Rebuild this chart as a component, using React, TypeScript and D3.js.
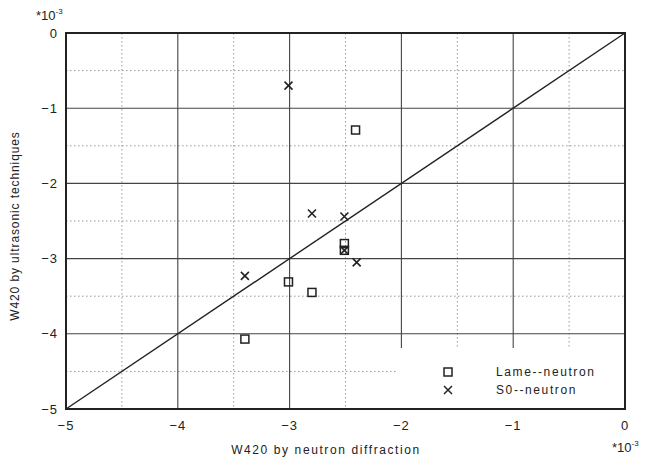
import React from "react";
import * as d3 from "d3";

const xTicks = [-5, -4, -3, -2, -1, 0];
const yTicks = [0, -1, -2, -3, -4, -5];
const minorTicks = [-4.5, -3.5, -2.5, -1.5, -0.5];

const lameX = [-2.41, -3.01, -2.8, -3.4, -2.51, -2.51];
const lameY = [-1.29, -3.31, -3.45, -4.07, -2.8, -2.89];

const s0X = [-3.01, -2.8, -2.51, -3.4, -2.4, -2.51];
const s0Y = [-0.7, -2.4, -2.44, -3.23, -3.05, -2.89];

const legendLabels = ["Lame--neutron", "S0--neutron"];

const W = 651;
const H = 465;
const M = { left: 66, right: 26, top: 33, bottom: 56 };

export default function App() {
  const x = d3.scaleLinear().domain([-5, 0]).range([M.left, W - M.right]);
  const y = d3.scaleLinear().domain([-5, 0]).range([H - M.bottom, M.top]);
  const font = "'Liberation Sans', Arial, sans-serif";
  const ink = "#222";
  const lame = lameX.map((v, i) => ({ x: v, y: lameY[i] }));
  const s0 = s0X.map((v, i) => ({ x: v, y: s0Y[i] }));
  const diag = d3.line<number>().x((d) => x(d)).y((d) => y(d));
  const legX = 398;
  const legY = 348;
  const sq = 4;
  const xs = 4;
  return (
    <svg
      width={W}
      height={H}
      style={{ position: "absolute", left: 0, top: 0, background: "#fff" }}
      fontFamily={font}
    >
      <rect width={W} height={H} fill="#fff" />
      {/* minor dotted grid */}
      {minorTicks.map((t) => (
        <g key={"m" + t}>
          <line x1={x(t)} x2={x(t)} y1={y(0)} y2={y(-5)} stroke="#999" strokeWidth={1} strokeDasharray="1.5,2.5" />
          <line x1={x(-5)} x2={x(0)} y1={y(t)} y2={y(t)} stroke="#999" strokeWidth={1} strokeDasharray="1.5,2.5" />
        </g>
      ))}
      {/* major grid */}
      {xTicks.slice(1, -1).map((t) => (
        <line key={"gx" + t} x1={x(t)} x2={x(t)} y1={y(0)} y2={y(-5)} stroke="#444" strokeWidth={1.1} />
      ))}
      {yTicks.slice(1, -1).map((t) => (
        <line key={"gy" + t} x1={x(-5)} x2={x(0)} y1={y(t)} y2={y(t)} stroke="#444" strokeWidth={1.1} />
      ))}
      {/* legend area blanks grid */}
      <rect x={legX} y={legY} width={x(0) - legX} height={y(-5) - legY} fill="#fff" />
      {/* diagonal */}
      <path d={diag([-5, 0]) || ""} stroke={ink} strokeWidth={1.4} fill="none" />
      {/* frame */}
      <rect x={x(-5)} y={y(0)} width={x(0) - x(-5)} height={y(-5) - y(0)} fill="none" stroke={ink} strokeWidth={2} />
      {/* data */}
      {lame.map((d, i) => (
        <rect key={"l" + i} x={x(d.x) - sq} y={y(d.y) - sq} width={sq * 2} height={sq * 2} fill="none" stroke={ink} strokeWidth={1.5} />
      ))}
      {s0.map((d, i) => (
        <path
          key={"s" + i}
          d={`M${x(d.x) - xs},${y(d.y) - xs}L${x(d.x) + xs},${y(d.y) + xs}M${x(d.x) - xs},${y(d.y) + xs}L${x(d.x) + xs},${y(d.y) - xs}`}
          stroke={ink}
          strokeWidth={1.6}
          fill="none"
        />
      ))}
      {/* legend */}
      <rect x={448 - sq} y={372 - sq} width={sq * 2} height={sq * 2} fill="none" stroke={ink} strokeWidth={1.5} />
      <path d={`M${448 - xs},${390 - xs}L${448 + xs},${390 + xs}M${448 - xs},${390 + xs}L${448 + xs},${390 - xs}`} stroke={ink} strokeWidth={1.5} />
      {legendLabels.map((l, i) => (
        <text key={l} x={496} y={372 + i * 18} dy="0.35em" fontSize={12} fill={ink} letterSpacing={1.6}>
          {l}
        </text>
      ))}
      {/* x ticks */}
      {xTicks.map((t) => (
        <text key={"xt" + t} x={x(t)} y={425} dy="0.35em" textAnchor="middle" fontSize={13} fill={ink} letterSpacing={1}>
          {t === 0 ? "0" : "\u2212" + Math.abs(t)}
        </text>
      ))}
      {yTicks.map((t) => (
        <text key={"yt" + t} x={58} y={y(t)} dy="0.35em" textAnchor="end" fontSize={13} fill={ink} letterSpacing={1}>
          {t === 0 ? "0" : "\u2212" + Math.abs(t)}
        </text>
      ))}
      {/* exponent labels */}
      <text x={36} y={20} fontSize={13} fill={ink}>
        *10<tspan dy={-6} fontSize={8}>-3</tspan>
      </text>
      <text x={612} y={452} fontSize={13} fill={ink}>
        *10<tspan dy={-6} fontSize={8}>-3</tspan>
      </text>
      {/* axis titles */}
      <text x={326} y={450} dy="0.35em" textAnchor="middle" fontSize={12} fill={ink} letterSpacing={1.6}>
        W420 by neutron diffraction
      </text>
      <text
        transform={`translate(15,${226}) rotate(-90)`}
        textAnchor="middle"
        dy="0.35em"
        fontSize={12}
        fill={ink}
        letterSpacing={0.9}
      >
        W420 by ultrasonic techniques
      </text>
    </svg>
  );
}
